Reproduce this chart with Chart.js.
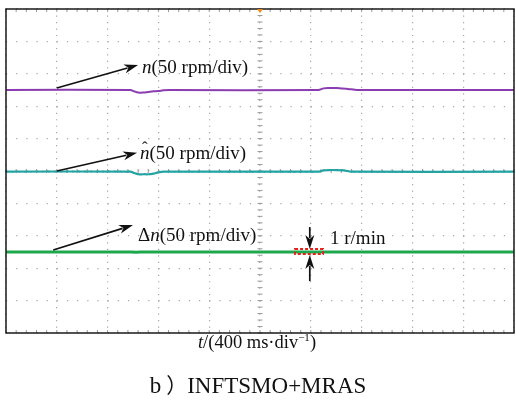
<!DOCTYPE html>
<html><head><meta charset="utf-8">
<script src="https://cdn.jsdelivr.net/npm/chart.js@4.4.1/dist/chart.umd.min.js"></script>
<style>
html,body{margin:0;padding:0;background:#fff;}
#wrap{position:relative;width:516px;height:403px;overflow:hidden;background:#fff;}
canvas{position:absolute;left:0;top:0;}
.lbl{position:absolute;font-family:"Liberation Serif","Times New Roman",serif;font-size:19px;line-height:1;color:#111;white-space:nowrap;}
.ctr{position:absolute;left:0;width:516px;text-align:center;font-family:"Liberation Serif","Times New Roman",serif;line-height:1;color:#111;white-space:nowrap;}
.hat{position:relative;display:inline-block;}
.hat b{position:absolute;left:2px;top:-4px;font-weight:normal;font-style:normal;font-size:17px;}
</style></head><body>
<div id="wrap">
<canvas id="c" width="516" height="403"></canvas>
<div class="lbl" style="left:142px;top:57px"><i>n</i>(50 rpm/div)</div>
<div class="lbl" style="left:140px;top:143px"><span class="hat"><i>n</i><b>&#710;</b></span>(50 rpm/div)</div>
<div class="lbl" style="left:138px;top:225px">&Delta;<i>n</i>(50 rpm/div)</div>
<div class="lbl" style="left:330px;top:228px">1 r/min</div>
<div class="ctr" style="top:333px;font-size:18.5px;left:-1px"><i>t</i>/(400 ms·div<span style="font-size:11px;position:relative;top:-7px">−1</span>)</div>
<div class="ctr" style="top:374px;font-size:23px;left:0px">b<span style="font-family:'Noto Sans CJK SC';font-size:21px;margin-left:5px">）</span>INFTSMO+MRAS</div>
</div>
<script>
// ---- data (time in divisions, value in divisions) ----
const timeN   = [0, 2.45, 2.52, 2.6, 2.7, 2.8, 2.9, 3.0, 3.1, 3.22, 6.15, 6.25, 6.35, 6.5, 6.6, 6.7, 6.8, 6.9, 10];
const speedN  = [2.5, 2.5, 2.46, 2.42, 2.42, 2.44, 2.46, 2.47, 2.49, 2.5, 2.5, 2.55, 2.56, 2.56, 2.55, 2.54, 2.52, 2.5, 2.5];
const timeEst  = [0, 2.45, 2.52, 2.6, 2.7, 2.8, 2.9, 3.0, 3.1, 6.15, 6.25, 6.35, 6.5, 6.65, 6.8, 10];
const speedEst = [-0.02, -0.02, -0.06, -0.1, -0.1, -0.1, -0.08, -0.04, -0.02, -0.02, 0.02, 0.03, 0.03, 0.02, -0.02, -0.02];
const timeErr  = [0, 2.48, 2.56, 2.65, 10];
const speedErr = [-2.5, -2.5, -2.51, -2.5, -2.5];
const xTicks = [0, 10, 1];     // min, max, step (divisions)
const yTicks = [-5, 5, 1];
// annotation pointers (data units)
const pointerFrom = [[1.0, 2.56], [1.0, 0.0], [0.93, -2.44], [5.98, -1.73], [5.98, -3.4]];
const pointerTo   = [[2.6, 3.27], [2.58, 0.56], [2.5, -1.67], [5.98, -2.41], [5.98, -2.59]];
const markBox = [5.69, 6.24, -2.41, -2.56];

const pts = (t, v) => t.map((x, i) => ({x, y: v[i]}));

const crossPlugin = {
  id: 'cross',
  beforeDatasetsDraw(chart) {
    const {ctx, chartArea: a, scales: {x, y}} = chart;
    ctx.save();
    ctx.strokeStyle = '#9a9a9a';
    ctx.lineWidth = 1;
    const x0 = x.getPixelForValue(5), y0 = y.getPixelForValue(0);
    ctx.beginPath();
    for (let i = 0; i <= 50; i++) {
      const px = x.getPixelForValue(xTicks[0] + i * 0.2);
      ctx.moveTo(px, y0 - 2); ctx.lineTo(px, y0 + 2);
      ctx.moveTo(px, a.top); ctx.lineTo(px, a.top + 3);
      ctx.moveTo(px, a.bottom - 3); ctx.lineTo(px, a.bottom);
    }
    for (let i = 0; i <= 50; i++) {
      const py = y.getPixelForValue(yTicks[0] + i * 0.2);
      ctx.moveTo(x0 - 2.5, py); ctx.lineTo(x0 + 2.5, py);
    }
    ctx.stroke();
    ctx.restore();
  },
  afterDatasetsDraw(chart) {
    const {ctx, chartArea: a, scales: {x, y}} = chart;
    ctx.save();
    // red dashed box
    ctx.strokeStyle = '#e2231a'; ctx.lineWidth = 2; ctx.setLineDash([3, 2]);
    const bx1 = x.getPixelForValue(markBox[0]), bx2 = x.getPixelForValue(markBox[1]);
    const by1 = y.getPixelForValue(markBox[2]), by2 = y.getPixelForValue(markBox[3]);
    ctx.strokeRect(bx1, by1, bx2 - bx1, by2 - by1);
    ctx.setLineDash([]);
    // arrows
    ctx.strokeStyle = '#111'; ctx.fillStyle = '#111'; ctx.lineWidth = 1.7;
    pointerFrom.forEach((f, i) => {
      const t = pointerTo[i];
      const x1 = x.getPixelForValue(f[0]), y1 = y.getPixelForValue(f[1]);
      const x2 = x.getPixelForValue(t[0]), y2 = y.getPixelForValue(t[1]);
      const ang = Math.atan2(y2 - y1, x2 - x1);
      const L = 14, W = 4.5;
      ctx.beginPath(); ctx.moveTo(x1, y1);
      ctx.lineTo(x2 - (L - 3) * Math.cos(ang), y2 - (L - 3) * Math.sin(ang)); ctx.stroke();
      ctx.beginPath();
      ctx.moveTo(x2, y2);
      ctx.lineTo(x2 - L * Math.cos(ang) + W * Math.sin(ang), y2 - L * Math.sin(ang) - W * Math.cos(ang));
      ctx.lineTo(x2 - (L - 4) * Math.cos(ang), y2 - (L - 4) * Math.sin(ang));
      ctx.lineTo(x2 - L * Math.cos(ang) - W * Math.sin(ang), y2 - L * Math.sin(ang) + W * Math.cos(ang));
      ctx.closePath(); ctx.fill();
    });
    ctx.restore();
  },
  afterDraw(chart) {
    const {ctx, chartArea: a, scales: {x}} = chart;
    ctx.save();
    ctx.strokeStyle = '#1a1a1a'; ctx.lineWidth = 1.5;
    ctx.strokeRect(a.left, a.top, a.right - a.left, a.bottom - a.top);
    const xm = x.getPixelForValue(5);
    ctx.fillStyle = '#f08a1c';
    ctx.beginPath(); ctx.moveTo(xm - 3, a.top); ctx.lineTo(xm + 3, a.top); ctx.lineTo(xm, a.top + 4); ctx.closePath(); ctx.fill();
    ctx.restore();
  }
};

new Chart(document.getElementById('c'), {
  type: 'line',
  data: {
    datasets: [
      {label: 'n', data: pts(timeN, speedN), borderColor: '#8a3cb0', borderWidth: 2, pointRadius: 0, tension: 0.3},
      {label: 'n_hat', data: pts(timeEst, speedEst), borderColor: '#24a3a3', borderWidth: 2.2, pointRadius: 0, tension: 0.3},
      {label: 'n_hat_tex', data: pts(timeEst, speedEst), borderColor: '#0f6b6b', borderWidth: 1.4, borderDash: [2, 4], pointRadius: 0, tension: 0.3},
      {label: 'dn', data: pts(timeErr, speedErr), borderColor: '#1ea84e', borderWidth: 3, pointRadius: 0},
      {label: 'dn_tex', data: pts(timeErr, speedErr), borderColor: '#0b5a2a', borderWidth: 2, borderDash: [2, 5], pointRadius: 0}
    ]
  },
  options: {
    responsive: false, animation: false, devicePixelRatio: 1,
    layout: {padding: {left: 6, top: 9, right: 2, bottom: 70}},
    plugins: {legend: {display: false}, tooltip: {enabled: false}, title: {display: false}},
    scales: {
      x: {type: 'linear', min: xTicks[0], max: xTicks[1],
          ticks: {display: false, stepSize: xTicks[2]},
          grid: {color: '#a8a8a8', lineWidth: 1.2, drawTicks: false},
          border: {display: false, dash: [1.2, 5.28]}},
      y: {type: 'linear', min: yTicks[0], max: yTicks[1],
          ticks: {display: false, stepSize: yTicks[2]},
          grid: {color: '#a8a8a8', lineWidth: 1.2, drawTicks: false},
          border: {display: false, dash: [1.2, 8.96]}}
    }
  },
  plugins: [crossPlugin]
});
</script>
</body></html>
